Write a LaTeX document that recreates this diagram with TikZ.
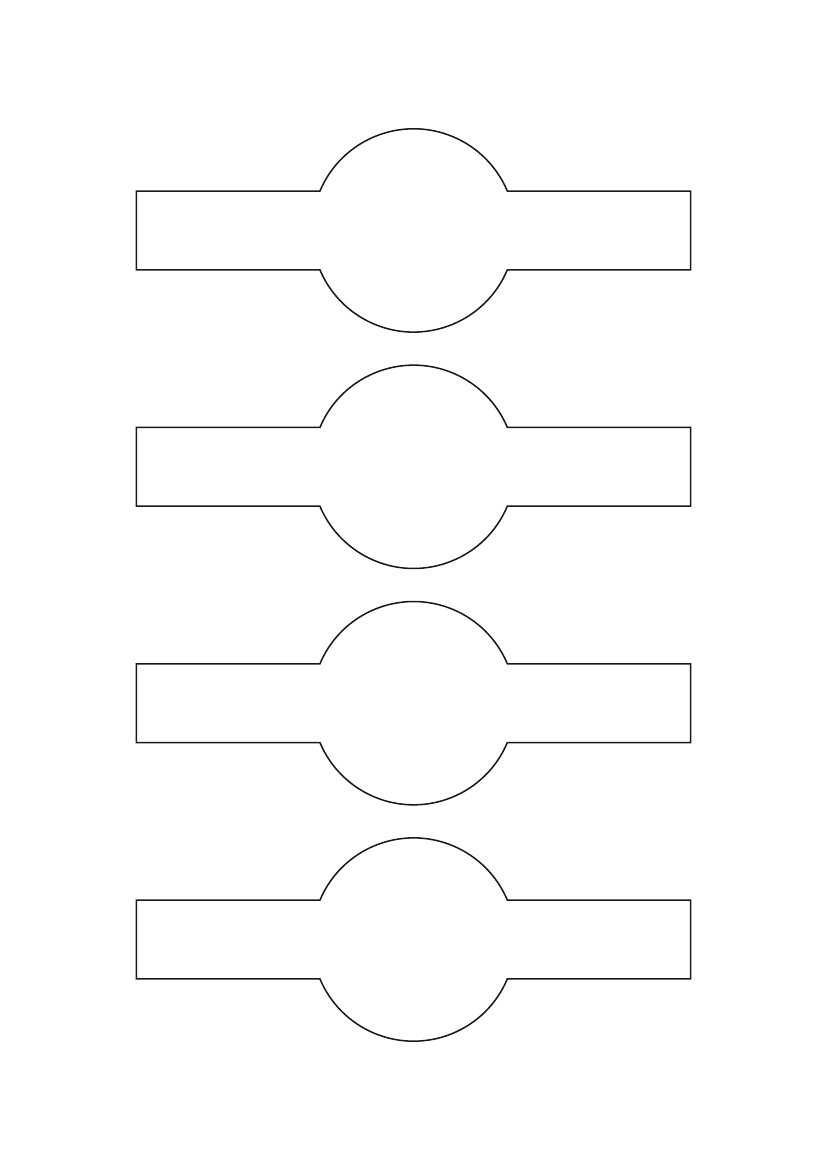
\documentclass[tikz,border=0pt]{standalone}
\usepackage{tikz}
\usetikzlibrary{calc}

\tikzset{
  labeloutline/.style={draw=black!90, line width=1.1pt, line join=miter}
}

\begin{document}
\begin{tikzpicture}[x=1mm,y=1mm]
    % A4 page
    \useasboundingbox (0,0) rectangle (210,297);
    % Four bands with a round badge in the middle
    \foreach \cy in {238.5,178.5,118.5,58.5} {
        \draw[labeloutline] (34.6,\cy+10) -- (105-23.78,\cy+10)
            arc[start angle=157.2, end angle=22.8, radius=25.8]
            -- (175.3,\cy+10) -- (175.3,\cy-10) -- (105+23.78,\cy-10)
            arc[start angle=-22.8, end angle=-157.2, radius=25.8]
            -- (34.6,\cy-10) -- cycle;
    }
\end{tikzpicture}
\end{document}
